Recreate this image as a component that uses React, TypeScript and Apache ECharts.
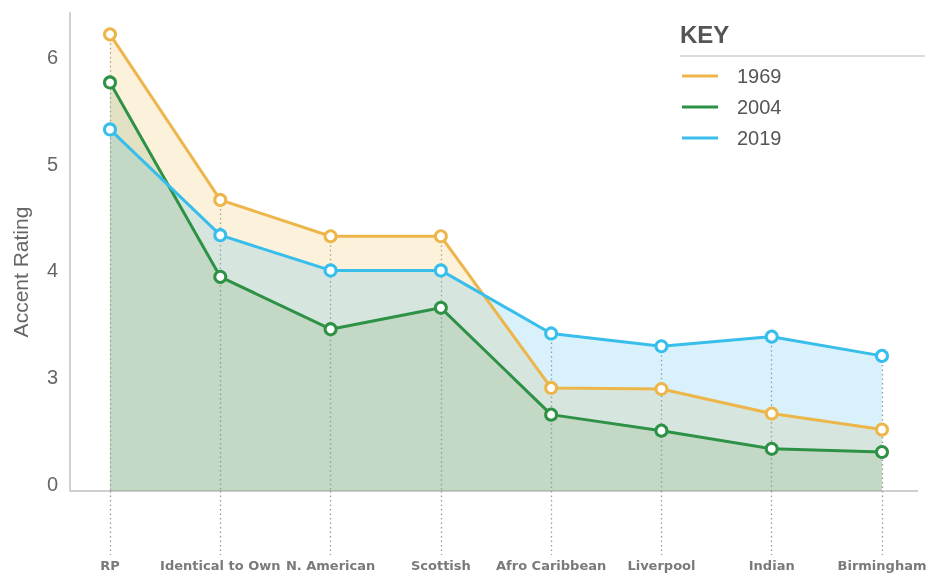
import React, { useEffect, useRef } from "react";
import * as echarts from "echarts";

const categories = ["RP", "Identical to Own", "N. American", "Scottish", "Afro Caribbean", "Liverpool", "Indian", "Birmingham"];
const seriesNames = ["1969", "2004", "2019"];
const values1969 = [6.21, 4.66, 4.32, 4.32, 2.9, 2.89, 2.66, 2.51];
const values2004 = [5.76, 3.94, 3.45, 3.65, 2.65, 2.5, 2.33, 2.3];
const values2019 = [5.32, 4.33, 4.0, 4.0, 3.41, 3.29, 3.38, 3.2];
const yTickValues = [2, 3, 4, 5, 6];
const yTickLabels = ["0", "3", "4", "5", "6"];

const Y_MIN = 1.935;
const Y_MAX = 6.41;
const FONT = 'Arial, "Liberation Sans", sans-serif';
const LABEL_FONT = '"DejaVu Sans", Verdana, sans-serif';

const lineColors = ["#ECB64B", "#2E9246", "#38BEEB"];
const areaColors = ["rgba(240,185,74,0.2)", "rgba(100,150,80,0.17)", "rgba(40,180,235,0.18)"];
const allValues = [values1969, values2004, values2019];

export default function App() {
  const ref = useRef<HTMLDivElement>(null);
  useEffect(() => {
    if (!ref.current) return;
    const chart = echarts.init(ref.current, null, { renderer: "svg" });
    const tops = categories.map((c, i) => Math.max(values1969[i], values2004[i], values2019[i]));
    const areaOrder = [0, 2, 1];
    const areaSeries = areaOrder.map((k, idx) => ({
      name: seriesNames[k] + " area",
      type: "line",
      data: allValues[k],
      symbol: "none",
      silent: true,
      z: 1,
      lineStyle: { width: 0, opacity: 0 },
      areaStyle: { color: areaColors[k], opacity: 1 },
      markLine:
        idx === 0
          ? {
              silent: true,
              symbol: "none",
              z: 1,
              label: { show: false },
              lineStyle: { type: [1.5, 3], color: "#9a9a9a", width: 1.3 },
              data: categories.map((c, i) => [
                { coord: [c, tops[i]] },
                { coord: [c, Y_MIN] },
              ]),
            }
          : undefined,
    }));
    const lineSeries = seriesNames.map((n, k) => ({
      name: n,
      type: "line",
      data: allValues[k],
      z: 5,
      symbol: "circle",
      symbolSize: 11,
      lineStyle: { width: 3, color: lineColors[k] },
      itemStyle: { color: "#ffffff", borderColor: lineColors[k], borderWidth: 3 },
    }));
    chart.setOption({
      animation: false,
      textStyle: { fontFamily: FONT },
      title: {
        text: "KEY",
        left: 680,
        top: 22,
        padding: 0,
        textStyle: { fontSize: 24, fontWeight: "bold", color: "#555", fontFamily: FONT },
      },
      legend: {
        data: seriesNames.map((n, k) => ({ name: n, itemStyle: { color: lineColors[k], borderWidth: 0 } })),
        orient: "vertical",
        left: 682,
        top: 66,
        padding: 0,
        itemGap: 11,
        icon: "rect",
        itemWidth: 36,
        itemHeight: 3,
        textStyle: { fontSize: 20, color: "#555", padding: [0, 0, 0, 14], lineHeight: 20, fontFamily: FONT },
      },
      grid: { left: 110, right: 55, top: 13, bottom: 84, containLabel: false },
      xAxis: {
        type: "category",
        data: categories,
        boundaryGap: false,
        axisLine: { show: false },
        axisTick: {
          show: true,
          alignWithLabel: true,
          length: 64,
          lineStyle: { type: [1.5, 3], color: "#9a9a9a", width: 1.3 },
        },
        axisLabel: {
          margin: 68,
          fontSize: 13,
          fontWeight: "bold",
          color: "#7a7a7a",
          fontFamily: LABEL_FONT,
          interval: 0,
        },
        splitLine: { show: false },
      },
      yAxis: {
        type: "value",
        min: Y_MIN,
        max: Y_MAX,
        offset: 40,
        name: "Accent Rating",
        nameLocation: "middle",
        nameRotate: 90,
        nameGap: 39,
        nameTextStyle: { fontSize: 21, color: "#666", fontFamily: FONT, padding: [0, 40, 0, 0] },
        axisLine: { show: true, lineStyle: { color: "#cfcfcf", width: 2 } },
        axisTick: { show: false },
        splitLine: { show: false },
        axisLabel: {
          customValues: yTickValues,
          margin: 12,
          fontSize: 20,
          color: "#666",
          fontFamily: FONT,
          formatter: (v: number) => yTickLabels[yTickValues.indexOf(v)] ?? "",
        },
      },
      graphic: [
        { type: "line", shape: { x1: 70, y1: 491, x2: 918, y2: 491 }, style: { stroke: "#cfcfcf", lineWidth: 2 }, z: 0 },
        { type: "line", shape: { x1: 680, y1: 56, x2: 925, y2: 56 }, style: { stroke: "#d0d0d0", lineWidth: 1.5 } },
      ],
      series: [...areaSeries, ...lineSeries],
    });
    return () => chart.dispose();
  }, []);
  return <div ref={ref} style={{ position: "fixed", left: 0, top: 0, width: 937, height: 575 }} />;
}
